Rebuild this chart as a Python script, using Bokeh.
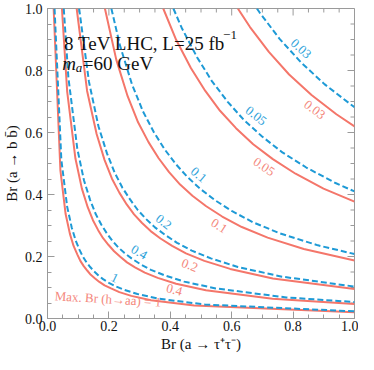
from bokeh.plotting import figure
from bokeh.models import Range1d, LinearAxis, SingleIntervalTicker, PrintfTickFormatter, Label
from bokeh.embed import file_html
from bokeh.resources import INLINE

# ---- data ----
level_labels = ["1", "0.4", "0.2", "0.1", "0.05", "0.03"]
major_ticks = [0.0, 0.2, 0.4, 0.6, 0.8, 1.0]
minor_ticks = [0.05, 0.1, 0.15, 0.25, 0.3, 0.35, 0.45, 0.5, 0.55, 0.65, 0.7, 0.75, 0.85, 0.9, 0.95]

# solid (red) contours
red_1_x = [0.020, 0.042, 0.059, 0.073, 0.085, 0.097, 0.107, 0.118, 0.130, 0.141, 0.154, 0.169, 0.186, 0.207, 0.234, 0.273, 0.337, 0.478, 1.0]
red_1_y = [1.0, 0.478, 0.337, 0.273, 0.234, 0.207, 0.186, 0.169, 0.154, 0.141, 0.130, 0.118, 0.107, 0.097, 0.085, 0.073, 0.059, 0.042, 0.020]
red_04_x = [0.047, 0.064, 0.091, 0.112, 0.131, 0.148, 0.165, 0.181, 0.199, 0.217, 0.237, 0.259, 0.285, 0.317, 0.359, 0.419, 0.516, 0.733, 1.0]
red_04_y = [1.0, 0.733, 0.516, 0.419, 0.359, 0.317, 0.285, 0.259, 0.237, 0.217, 0.199, 0.181, 0.165, 0.148, 0.131, 0.112, 0.091, 0.064, 0.047]
red_02_x = [0.095, 0.129, 0.160, 0.186, 0.210, 0.234, 0.258, 0.282, 0.308, 0.336, 0.368, 0.406, 0.451, 0.511, 0.595, 0.734, 1.0]
red_02_y = [1.0, 0.734, 0.595, 0.511, 0.451, 0.406, 0.368, 0.336, 0.308, 0.282, 0.258, 0.234, 0.210, 0.186, 0.160, 0.129, 0.095]
red_01_x = [0.187, 0.224, 0.261, 0.295, 0.329, 0.362, 0.396, 0.432, 0.472, 0.517, 0.569, 0.633, 0.717, 0.835, 1.0]
red_01_y = [1.0, 0.835, 0.717, 0.633, 0.569, 0.517, 0.472, 0.432, 0.396, 0.362, 0.329, 0.295, 0.261, 0.224, 0.187]
red_005_x = [0.377, 0.419, 0.467, 0.514, 0.562, 0.614, 0.670, 0.734, 0.808, 0.899, 1.0]
red_005_y = [1.0, 0.899, 0.808, 0.734, 0.670, 0.614, 0.562, 0.514, 0.467, 0.419, 0.377]
red_003_x = [0.620, 0.659, 0.721, 0.787, 0.860, 0.941, 1.0]
red_003_y = [1.0, 0.941, 0.860, 0.787, 0.721, 0.659, 0.620]

# dashed (blue) contours
blue_1_x = [0.023, 0.045, 0.064, 0.079, 0.092, 0.104, 0.115, 0.127, 0.139, 0.152, 0.166, 0.181, 0.200, 0.222, 0.251, 0.293, 0.361, 0.513, 1.0]
blue_1_y = [1.0, 0.513, 0.361, 0.293, 0.251, 0.222, 0.200, 0.181, 0.166, 0.152, 0.139, 0.127, 0.115, 0.104, 0.092, 0.079, 0.064, 0.045, 0.023]
blue_04_x = [0.053, 0.068, 0.097, 0.119, 0.139, 0.157, 0.175, 0.193, 0.211, 0.230, 0.251, 0.275, 0.303, 0.337, 0.382, 0.445, 0.548, 0.778, 1.0]
blue_04_y = [1.0, 0.778, 0.548, 0.445, 0.382, 0.337, 0.303, 0.275, 0.251, 0.230, 0.211, 0.193, 0.175, 0.157, 0.139, 0.119, 0.097, 0.068, 0.053]
blue_02_x = [0.103, 0.135, 0.166, 0.194, 0.219, 0.244, 0.269, 0.294, 0.321, 0.350, 0.384, 0.422, 0.470, 0.532, 0.620, 0.764, 1.0]
blue_02_y = [1.0, 0.764, 0.620, 0.532, 0.470, 0.422, 0.384, 0.350, 0.321, 0.294, 0.269, 0.244, 0.219, 0.194, 0.166, 0.135, 0.103]
blue_01_x = [0.208, 0.236, 0.275, 0.311, 0.347, 0.382, 0.418, 0.456, 0.498, 0.545, 0.600, 0.668, 0.756, 0.881, 1.0]
blue_01_y = [1.0, 0.881, 0.756, 0.668, 0.600, 0.545, 0.498, 0.456, 0.418, 0.382, 0.347, 0.311, 0.275, 0.236, 0.208]
blue_005_x = [0.410, 0.437, 0.487, 0.536, 0.587, 0.640, 0.699, 0.765, 0.843, 0.938, 1.0]
blue_005_y = [1.0, 0.938, 0.843, 0.765, 0.699, 0.640, 0.587, 0.536, 0.487, 0.437, 0.410]
blue_003_x = [0.682, 0.691, 0.756, 0.826, 0.902, 0.987, 1.0]
blue_003_y = [1.0, 0.987, 0.902, 0.826, 0.756, 0.691, 0.682]

red_curves = [(red_1_x, red_1_y), (red_04_x, red_04_y), (red_02_x, red_02_y),
              (red_01_x, red_01_y), (red_005_x, red_005_y), (red_003_x, red_003_y)]
blue_curves = [(blue_1_x, blue_1_y), (blue_04_x, blue_04_y), (blue_02_x, blue_02_y),
               (blue_01_x, blue_01_y), (blue_005_x, blue_005_y), (blue_003_x, blue_003_y)]

RED = "#F4766A"
BLUE = "#1E9AD6"
RED_TXT = "#F4877C"
BLUE_TXT = "#2FA3DA"
GRAY = "#9a9a9a"
SERIF = "Liberation Serif"

p = figure(width=358, height=354, output_backend="svg", toolbar_location=None,
           x_range=Range1d(0, 1), y_range=Range1d(0, 1),
           x_axis_location=None, y_axis_location=None,
           min_border_left=44, min_border_right=4, min_border_top=8, min_border_bottom=34)
p.grid.visible = False
p.outline_line_color = GRAY
p.background_fill_color = "white"
p.border_fill_color = "white"


def make_axis(label):
    ax = LinearAxis(ticker=SingleIntervalTicker(interval=0.2, num_minor_ticks=4),
                    formatter=PrintfTickFormatter(format="%.1f"))
    ax.axis_line_color = GRAY
    ax.major_tick_line_color = GRAY
    ax.minor_tick_line_color = GRAY
    ax.major_tick_in = 7
    ax.major_tick_out = 0
    ax.minor_tick_in = 4
    ax.minor_tick_out = 0
    ax.major_label_text_font = SERIF
    ax.major_label_text_font_size = "14px"
    ax.major_label_text_color = "#111111"
    ax.axis_label = label
    ax.axis_label_text_font = SERIF
    ax.axis_label_text_font_size = "15px"
    ax.axis_label_text_font_style = "normal"
    ax.axis_label_text_color = "#111111"
    return ax


xb = make_axis("Br (a \u2192 \u03c4\u207a\u03c4\u207b)")
xb.major_label_standoff = 2
xb.axis_label_standoff = 2
yl = make_axis("Br (a \u2192 b b\u0304)")
yl.major_label_standoff = 5
yl.axis_label_standoff = 2
p.add_layout(xb, "below")
p.add_layout(yl, "left")

# inward frame ticks on the top and right edges
p.ray(x=major_ticks, y=[1.0] * len(major_ticks), length=7, length_units="screen",
      angle=-90, angle_units="deg", line_color=GRAY, line_width=1)
p.ray(x=minor_ticks, y=[1.0] * len(minor_ticks), length=4, length_units="screen",
      angle=-90, angle_units="deg", line_color=GRAY, line_width=1)
p.ray(x=[1.0] * len(major_ticks), y=major_ticks, length=7, length_units="screen",
      angle=180, angle_units="deg", line_color=GRAY, line_width=1)
p.ray(x=[1.0] * len(minor_ticks), y=minor_ticks, length=4, length_units="screen",
      angle=180, angle_units="deg", line_color=GRAY, line_width=1)

for (xs, ys) in red_curves:
    p.line(xs, ys, line_color=RED, line_width=2, line_join="round")
for (xs, ys) in blue_curves:
    p.line(xs, ys, line_color=BLUE, line_width=2, line_dash="6 3")

# contour labels: (text, x, y, angle in degrees, colour)
contour_labels = [
    ("0.03", 0.825, 0.870, -42, BLUE_TXT),
    ("0.03", 0.870, 0.673, -37, RED_TXT),
    ("0.05", 0.679, 0.654, -38, BLUE_TXT),
    ("0.05", 0.705, 0.489, -34, RED_TXT),
    ("0.1", 0.492, 0.463, -40, BLUE_TXT),
    ("0.1", 0.559, 0.298, -33, RED_TXT),
    ("0.2", 0.378, 0.311, -38, BLUE_TXT),
    ("0.2", 0.463, 0.171, -22, RED_TXT),
    ("0.4", 0.298, 0.213, -30, BLUE_TXT),
    ("0.4", 0.413, 0.092, -15, RED_TXT),
    ("1", 0.219, 0.130, -26, BLUE_TXT),
]
for t, lx, ly, ang, col in contour_labels:
    p.add_layout(Label(x=lx, y=ly, text=t, angle=ang, angle_units="deg",
                       text_font=SERIF, text_font_size="13px", text_color=col,
                       text_align="center", text_baseline="middle"))

p.add_layout(Label(x=0.197, y=0.063, text="Max. Br (h\u2192aa) = 1", angle=-3.5, angle_units="deg",
                   text_font=SERIF, text_font_size="13px", text_color=RED_TXT,
                   text_align="center", text_baseline="middle"))

# title annotations
p.add_layout(Label(x=0.054, y=0.886, text="8 TeV LHC, L=25 fb", text_font=SERIF,
                   text_font_size="19px", text_color="#111111", text_baseline="alphabetic"))
p.add_layout(Label(x=0.572, y=0.913, text="\u22121", text_font=SERIF,
                   text_font_size="13px", text_color="#111111", text_baseline="alphabetic"))
p.add_layout(Label(x=0.048, y=0.822, text="m", text_font=SERIF, text_font_style="italic",
                   text_font_size="19px", text_color="#111111", text_baseline="alphabetic"))
p.add_layout(Label(x=0.092, y=0.809, text="a", text_font=SERIF, text_font_style="italic",
                   text_font_size="13px", text_color="#111111", text_baseline="alphabetic"))
p.add_layout(Label(x=0.115, y=0.822, text="=60 GeV", text_font=SERIF,
                   text_font_size="19px", text_color="#111111", text_baseline="alphabetic"))

open("out.html", "w").write(file_html(p, INLINE))
